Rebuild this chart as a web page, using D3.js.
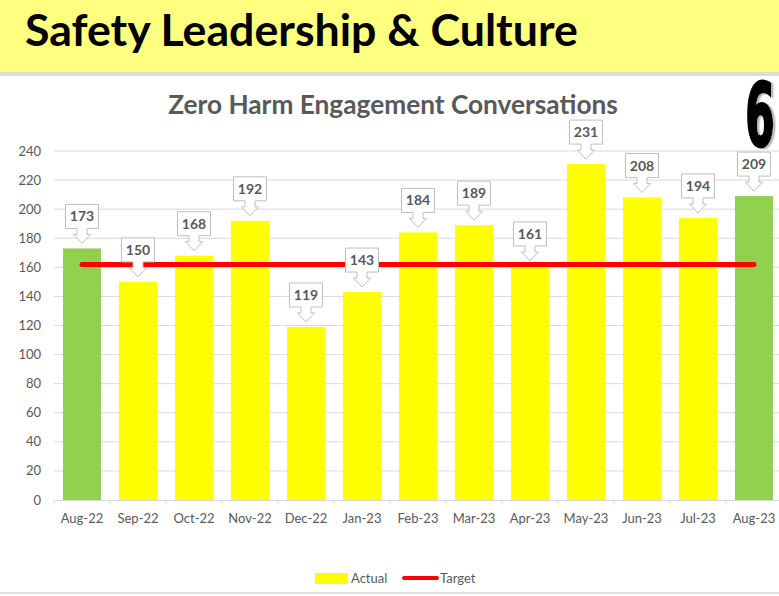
<!DOCTYPE html>
<html>
<head>
<meta charset="utf-8">
<script src="https://cdn.jsdelivr.net/npm/d3@7"></script>
<style>
  body { margin: 0; background: #fff; }
  svg { display: block; font-family: Lato, "Open Sans", sans-serif; }
</style>
</head>
<body>
<div id="chart"></div>
<script>
// data
const months = ["Aug-22", "Sep-22", "Oct-22", "Nov-22", "Dec-22", "Jan-23", "Feb-23",
                "Mar-23", "Apr-23", "May-23", "Jun-23", "Jul-23", "Aug-23"];
const actual = [173, 150, 168, 192, 119, 143, 184, 189, 161, 231, 208, 194, 209];
const target = [162, 162, 162, 162, 162, 162, 162, 162, 162, 162, 162, 162, 162];
const highlighted = ["Aug-22", "Aug-23"];
const yTicks = [0, 20, 40, 60, 80, 100, 120, 140, 160, 180, 200, 220, 240];

const W = 779, H = 596;
const margin = {top: 151, left: 54, bottom: 96};
const grey = "#595959";

const svg = d3.select("#chart").append("svg")
    .attr("width", W)
    .attr("height", H);

// fit a text element to a given width
function fitWidth(sel, w) {
    const len = sel.node().getComputedTextLength();
    const fs = parseFloat(sel.attr("font-size"));
    sel.attr("font-size", fs * w / len);
}

// soft grey shadow for the page number
const defs = svg.append("defs");
defs.append("filter").attr("id", "shadow")
    .attr("x", "-20%").attr("y", "-20%").attr("width", "160%").attr("height", "140%")
    .append("feDropShadow")
    .attr("dx", 5).attr("dy", 1).attr("stdDeviation", 0.6)
    .attr("flood-color", "#bdbdbd").attr("flood-opacity", 1);

// header band
svg.append("rect").attr("x", 0).attr("y", 0).attr("width", W).attr("height", 72).attr("fill", "#ffff80");
svg.append("rect").attr("x", 0).attr("y", 72).attr("width", W).attr("height", 4).attr("fill", "#dcdcdc");
const head = svg.append("text")
    .attr("x", 25).attr("y", 46)
    .attr("font-size", 40).attr("font-weight", 700)
    .attr("fill", "#000")
    .text("Safety Leadership & Culture");
fitWidth(head, 553);

// bottom border
svg.append("rect").attr("x", 0).attr("y", 592).attr("width", W).attr("height", 2).attr("fill", "#e0e0e0");

// scales
const x = d3.scaleBand()
    .domain(months)
    .range([margin.left, margin.left + 56 * months.length])
    .paddingInner(0.32)
    .paddingOuter(0.16);

const y = d3.scaleLinear()
    .domain([0, 240])
    .range([H - margin.bottom, margin.top]);

// gridlines
svg.append("g")
    .selectAll("line")
    .data(yTicks.filter(d => d > 0))
    .join("line")
    .attr("x1", margin.left).attr("x2", W)
    .attr("y1", d => y(d)).attr("y2", d => y(d))
    .attr("stroke", "#d9d9d9").attr("stroke-width", 1);

// y labels
svg.append("g")
    .selectAll("text")
    .data(yTicks)
    .join("text")
    .attr("x", 41)
    .attr("y", d => y(d) + 4.5)
    .attr("text-anchor", "end")
    .attr("font-size", 13)
    .attr("fill", grey)
    .text(d => d);

// x axis
const xAxis = d3.axisBottom(x).tickSize(0).tickPadding(14);
const gx = svg.append("g")
    .attr("transform", `translate(0,${y(0)})`)
    .call(xAxis);
gx.select(".domain").attr("stroke", "#d9d9d9");
gx.selectAll("text").attr("font-size", 13).attr("fill", grey).attr("font-family", "Lato, sans-serif");
// band boundary tick marks
const half = x.step() * x.paddingInner() / 2;
svg.append("g")
    .selectAll("line")
    .data(months)
    .join("line")
    .attr("x1", d => x(d) - half)
    .attr("x2", d => x(d) - half)
    .attr("y1", y(0)).attr("y2", y(0) + 5)
    .attr("stroke", "#d9d9d9");

// title
const title = svg.append("text")
    .attr("x", 393).attr("y", 114)
    .attr("text-anchor", "middle")
    .attr("font-size", 24).attr("font-weight", 700)
    .attr("fill", grey)
    .text("Zero Harm Engagement Conversations");
fitWidth(title, 450);

// bars
svg.append("g")
    .selectAll("rect")
    .data(months)
    .join("rect")
    .attr("x", d => x(d))
    .attr("width", x.bandwidth())
    .attr("y", (d, i) => y(actual[i]))
    .attr("height", (d, i) => y(0) - y(actual[i]))
    .attr("fill", d => highlighted.includes(d) ? "#92d050" : "#ffff00");

// target line
const line = d3.line()
    .x(d => x(d) + x.bandwidth() / 2)
    .y((d, i) => y(target[i]));
svg.append("path")
    .datum(months)
    .attr("d", line)
    .attr("fill", "none")
    .attr("stroke", "#ff0000")
    .attr("stroke-width", 5)
    .attr("stroke-linecap", "round");

// data callouts
const bw = 33, bh = 24, gap = 5, neck = 6, headH = 9;
const callouts = svg.append("g")
    .selectAll("g")
    .data(months)
    .join("g")
    .attr("transform", (d, i) => `translate(${x(d) + x.bandwidth() / 2},${y(actual[i])})`);

callouts.append("path")
    .attr("d", () => {
        const tip = -gap, hb = tip - headH, nb = hb - neck, top = nb - bh;
        return `M${-bw / 2},${top} H${bw / 2} V${nb} H5 V${hb} H8.5 L0,${tip} L-8.5,${hb} H-5 V${nb} H${-bw / 2} Z`;
    })
    .attr("fill", "#fff")
    .attr("stroke", "#bfbfbf")
    .attr("stroke-width", 1);

callouts.append("text")
    .attr("x", 0)
    .attr("y", -gap - headH - neck - bh + 17)
    .attr("text-anchor", "middle")
    .attr("font-size", 14)
    .attr("font-weight", 700)
    .attr("fill", grey)
    .text((d, i) => actual[i]);

// page number
svg.append("g").attr("transform", "translate(760,146) scale(0.48,1)")
    .append("text")
    .attr("text-anchor", "middle")
    .attr("font-family", "DejaVu Sans").attr("font-weight", 700)
    .attr("font-size", 88).attr("fill", "#000")
    .attr("stroke", "#000").attr("stroke-width", 3)
    .attr("filter", "url(#shadow)")
    .text("6");

// legend
const legend = svg.append("g");
legend.append("rect").attr("x", 315).attr("y", 573).attr("width", 33).attr("height", 11).attr("fill", "#ffff00");
legend.append("text").attr("x", 351).attr("y", 583).attr("font-size", 13).attr("fill", grey).text("Actual");
legend.append("line").attr("x1", 404).attr("x2", 437).attr("y1", 578).attr("y2", 578)
    .attr("stroke", "#ff0000").attr("stroke-width", 4).attr("stroke-linecap", "round");
legend.append("text").attr("x", 440).attr("y", 583).attr("font-size", 13).attr("fill", grey).text("Target");
</script>
</body>
</html>
